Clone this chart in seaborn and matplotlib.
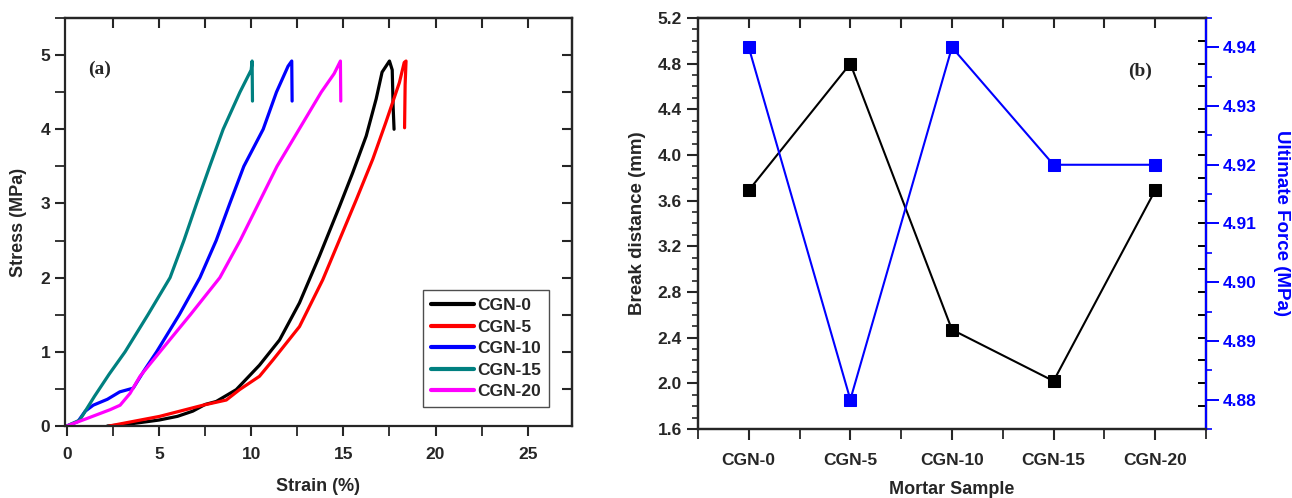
import numpy as np
import pandas as pd
import matplotlib
matplotlib.use("Agg")
import matplotlib.pyplot as plt
import seaborn as sns
from matplotlib.ticker import MultipleLocator, FormatStrFormatter, FixedLocator

# ---------------- data ----------------
# (a) stress-strain curves
cgn0_strain = [2.2, 3.2, 5.0, 6.0, 6.83, 7.5, 8.1, 9.19, 10.45, 11.54, 12.62, 13.7, 14.79, 15.5, 16.24, 16.78, 17.1, 17.5, 17.65, 17.7, 17.75]
cgn0_stress = [0.0, 0.02, 0.08, 0.13, 0.20, 0.29, 0.33, 0.49, 0.82, 1.16, 1.66, 2.29, 2.96, 3.41, 3.91, 4.41, 4.77, 4.92, 4.80, 4.30, 4.00]

cgn5_strain = [2.3, 5.04, 7.38, 8.65, 9.37, 10.45, 11.18, 12.62, 13.88, 14.79, 15.7, 16.6, 17.3, 18.04, 18.3, 18.4, 18.35, 18.32]
cgn5_stress = [0.0, 0.13, 0.28, 0.35, 0.49, 0.67, 0.89, 1.34, 1.97, 2.51, 3.05, 3.60, 4.09, 4.63, 4.90, 4.92, 4.60, 4.02]

cgn10_strain = [0.0, 0.6, 1.0, 1.43, 2.2, 2.87, 3.6, 4.2, 4.87, 6.1, 7.22, 8.1, 8.84, 9.6, 10.65, 11.37, 12.0, 12.2, 12.22]
cgn10_stress = [0.0, 0.06, 0.20, 0.28, 0.36, 0.46, 0.51, 0.75, 1.00, 1.50, 2.00, 2.50, 3.00, 3.50, 4.00, 4.50, 4.85, 4.92, 4.38]

cgn15_strain = [0.0, 0.7, 1.5, 2.3, 3.16, 4.4, 5.6, 6.35, 7.04, 7.75, 8.48, 9.39, 10.0, 10.05, 10.07]
cgn15_stress = [0.0, 0.08, 0.40, 0.70, 1.00, 1.50, 2.00, 2.50, 3.00, 3.50, 4.00, 4.50, 4.80, 4.92, 4.38]

cgn20_strain = [0.0, 1.08, 2.35, 2.89, 3.43, 3.97, 5.05, 6.7, 8.3, 9.4, 10.4, 11.4, 12.6, 13.8, 14.5, 14.84, 14.86]
cgn20_stress = [0.0, 0.10, 0.22, 0.28, 0.44, 0.67, 1.00, 1.50, 2.00, 2.50, 3.00, 3.50, 4.00, 4.50, 4.75, 4.92, 4.38]

# (b) summary
samples = ["CGN-0", "CGN-5", "CGN-10", "CGN-15", "CGN-20"]
break_distance = [3.69, 4.80, 2.47, 2.02, 3.69]
ultimate_force = [4.94, 4.88, 4.94, 4.92, 4.92]

# ---------------- style ----------------
sns.set_style("ticks")
plt.rcParams["font.family"] = ["Liberation Sans", "DejaVu Sans"]
plt.rcParams["font.weight"] = "bold"
plt.rcParams["axes.labelweight"] = "bold"
plt.rcParams["axes.linewidth"] = 1.6

TICK = 12.5
LAB = 13

fig = plt.figure(figsize=(12.92, 4.98), dpi=100)
ax1 = fig.add_axes([0.0503, 0.1446, 0.3924, 0.8193])
ax2 = fig.add_axes([0.5402, 0.1386, 0.3932, 0.8253])

# ---------------- panel (a) ----------------
curves = [
    ("CGN-0", cgn0_strain, cgn0_stress, "#000000"),
    ("CGN-5", cgn5_strain, cgn5_stress, "#ff0000"),
    ("CGN-10", cgn10_strain, cgn10_stress, "#0000ff"),
    ("CGN-15", cgn15_strain, cgn15_stress, "#008080"),
    ("CGN-20", cgn20_strain, cgn20_stress, "#ff00ff"),
]
for name, xs, ys, col in curves:
    df = pd.DataFrame({"strain": xs, "stress": ys})
    sns.lineplot(data=df, x="strain", y="stress", sort=False, estimator=None,
                 color=col, lw=2.3, ax=ax1, label=name)

ax1.set_xlim(-0.1, 27.4)
ax1.set_ylim(0, 5.5)
ax1.xaxis.set_major_locator(MultipleLocator(5))
ax1.xaxis.set_minor_locator(MultipleLocator(2.5))
ax1.yaxis.set_major_locator(MultipleLocator(1))
ax1.yaxis.set_minor_locator(MultipleLocator(0.5))
ax1.tick_params(axis="both", which="major", direction="out", length=7, width=1.5,
                labelsize=TICK)
ax1.tick_params(axis="both", which="minor", direction="out", length=7, width=1.3)
ax1.tick_params(axis="x", which="major", pad=8)
ax1.set_xlabel("Strain (%)", fontsize=LAB, labelpad=12)
ax1.set_ylabel("Stress (MPa)", fontsize=LAB, labelpad=10)
for lab in ax1.get_xticklabels() + ax1.get_yticklabels():
    lab.set_fontweight("bold")

# mirrored inward ticks on top/right
top1 = ax1.secondary_xaxis("top")
top1.xaxis.set_major_locator(FixedLocator(np.arange(2.5, 26, 2.5)))
top1.tick_params(direction="in", length=7, width=1.5, labeltop=False)
right1 = ax1.secondary_yaxis("right")
right1.yaxis.set_major_locator(FixedLocator(np.arange(0.5, 5.1, 0.5)))
right1.tick_params(direction="in", length=7, width=1.5, labelright=False)

leg = ax1.legend(loc="lower right", bbox_to_anchor=(0.955, 0.047), borderaxespad=0,
                 frameon=True, fancybox=False, edgecolor="#222222",
                 prop={"weight": "bold", "size": 12.5}, handlelength=2.5,
                 handletextpad=0.2, labelspacing=0.36, borderpad=0.45)
leg.get_frame().set_linewidth(1.0)
for h in leg.get_lines():
    h.set_linewidth(3)

ax1.text(0.069, 0.873, "(a)", transform=ax1.transAxes, fontsize=14,
         fontweight="bold", family=["Liberation Serif", "DejaVu Serif"],
         ha="center", va="center")

# ---------------- panel (b) ----------------
dfb = pd.DataFrame({"sample": samples, "pos": np.arange(len(samples)),
                    "break": break_distance, "force": ultimate_force})
sns.lineplot(data=dfb, x="pos", y="break", sort=False, estimator=None,
             color="black", lw=1.5, marker="s", markersize=8,
             markeredgecolor="black", ax=ax2)
ax2.set_xlim(-0.5, 4.5)
ax2.set_ylim(1.6, 5.2)
ax2.set_xticks(dfb["pos"])
ax2.set_xticklabels(samples)
ax2.xaxis.set_minor_locator(MultipleLocator(0.5))
ax2.yaxis.set_major_locator(MultipleLocator(0.4))
ax2.yaxis.set_minor_locator(MultipleLocator(0.1))
ax2.yaxis.set_major_formatter(FormatStrFormatter("%.1f"))
ax2.tick_params(axis="both", which="major", direction="out", length=8, width=1.5,
                labelsize=TICK)
ax2.tick_params(axis="x", which="minor", direction="out", length=7, width=1.3)
ax2.tick_params(axis="y", which="minor", direction="out", length=4, width=1.2)
ax2.tick_params(axis="x", which="major", pad=9)
ax2.set_xlabel("Mortar Sample", fontsize=LAB, labelpad=10)
ax2.set_ylabel("Break distance (mm)", fontsize=LAB + 0.5, labelpad=8)
for lab in ax2.get_xticklabels() + ax2.get_yticklabels():
    lab.set_fontweight("bold")

top2 = ax2.secondary_xaxis("top")
top2.xaxis.set_major_locator(FixedLocator(np.arange(0.0, 4.01, 0.5)))
top2.tick_params(direction="in", length=7, width=1.5, labeltop=False)

ax3 = ax2.twinx()
sns.lineplot(data=dfb, x="pos", y="force", sort=False, estimator=None,
             color="#0000ff", lw=1.5, marker="s", markersize=8,
             markeredgecolor="#0000ff", ax=ax3)
ax3.set_ylim(4.875, 4.945)
ax3.yaxis.set_major_locator(MultipleLocator(0.01))
ax3.yaxis.set_minor_locator(MultipleLocator(0.005))
ax3.yaxis.set_major_formatter(FormatStrFormatter("%.2f"))
ax3.tick_params(axis="y", which="major", direction="out", length=9, colors="#0000ff",
                labelsize=TICK, width=1.4, pad=3)
ax3.tick_params(axis="y", which="minor", direction="out", length=4, colors="#0000ff", width=1.2)
ax3.spines["right"].set_color("#0000ff")
ax3.set_ylabel("Ultimate Force (MPa)", fontsize=LAB + 0.5, color="#0000ff",
               rotation=270, labelpad=24)
for lab in ax3.get_yticklabels():
    lab.set_fontweight("bold")

# black inward ticks mirrored from the left axis
right2 = ax2.secondary_yaxis(1.0)
right2.yaxis.set_major_locator(FixedLocator(np.arange(1.8, 5.1, 0.2)))
right2.tick_params(direction="in", length=6, width=1.4, labelright=False, color="black")
right2.spines["right"].set_visible(False)

ax2.text(0.87, 0.869, "(b)", transform=ax2.transAxes, fontsize=14,
         fontweight="bold", family=["Liberation Serif", "DejaVu Serif"],
         ha="center", va="center")

fig.savefig("out.png", dpi=100)
